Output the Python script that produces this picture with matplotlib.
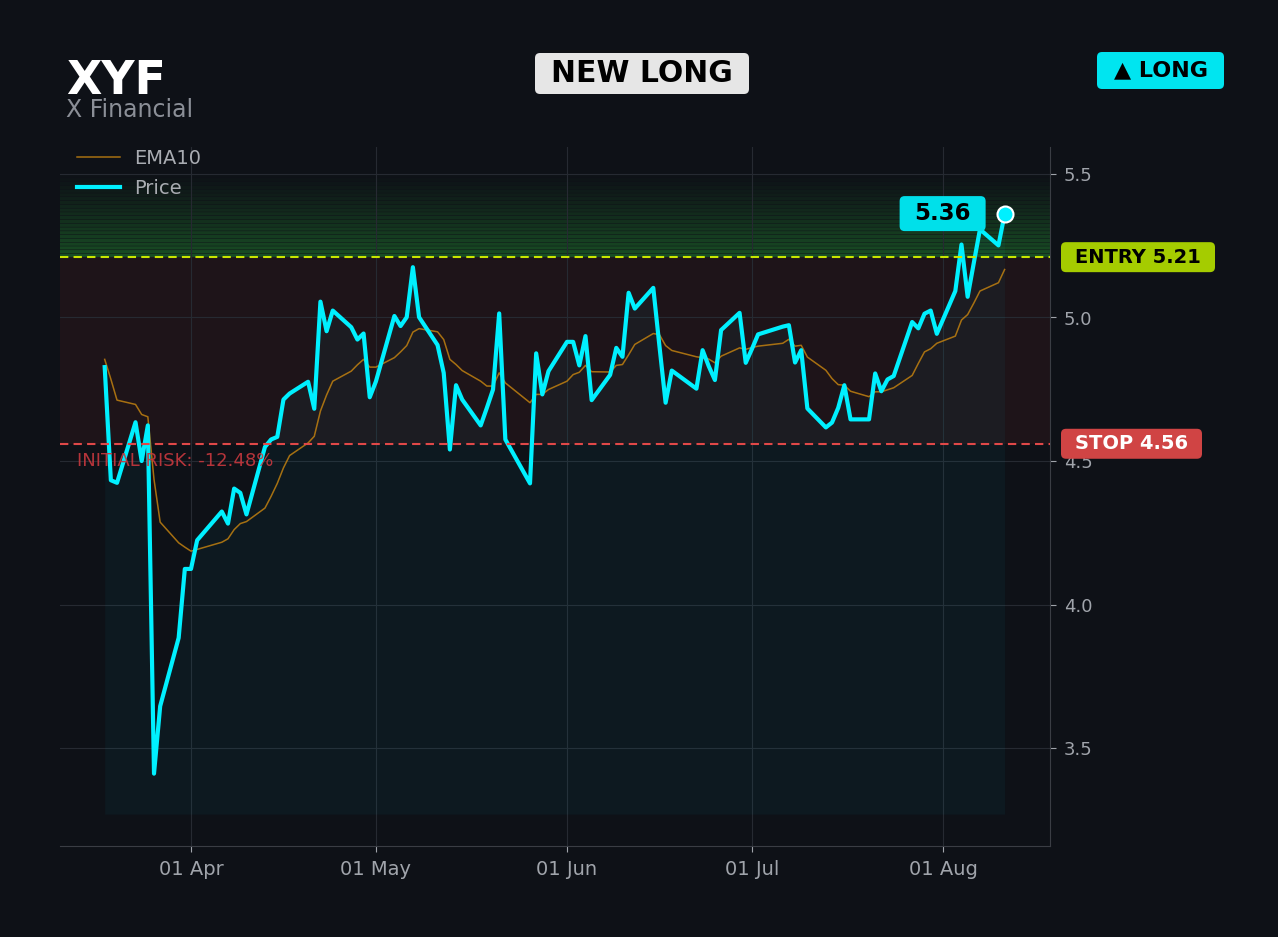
import matplotlib
matplotlib.use('Agg')
import matplotlib.pyplot as plt
import matplotlib.dates as mdates
import matplotlib.ticker as mticker
from matplotlib.patches import FancyBboxPatch
from matplotlib.transforms import IdentityTransform, blended_transform_factory
import numpy as np
import pandas as pd

# ---------------- data ----------------
ticker = "XYF"
company = "X Financial"
signal = "NEW LONG"
direction = "\u25B2 LONG"
entry = 5.21
stop = 4.56
last_price = 5.36
risk_pct = -12.48

price_dates = [
    "2026-03-18", "2026-03-19", "2026-03-20", "2026-03-23", "2026-03-24", "2026-03-25",
    "2026-03-26", "2026-03-27", "2026-03-30", "2026-03-31", "2026-04-01", "2026-04-02",
    "2026-04-06", "2026-04-07", "2026-04-08", "2026-04-09", "2026-04-10", "2026-04-13",
    "2026-04-14", "2026-04-15", "2026-04-16", "2026-04-17", "2026-04-20", "2026-04-21",
    "2026-04-22", "2026-04-23", "2026-04-24", "2026-04-27", "2026-04-28", "2026-04-29",
    "2026-04-30", "2026-05-01", "2026-05-04", "2026-05-05", "2026-05-06", "2026-05-07",
    "2026-05-08", "2026-05-11", "2026-05-12", "2026-05-13", "2026-05-14", "2026-05-15",
    "2026-05-18", "2026-05-19", "2026-05-20", "2026-05-21", "2026-05-22", "2026-05-26",
    "2026-05-27", "2026-05-28", "2026-05-29", "2026-06-01", "2026-06-02", "2026-06-03",
    "2026-06-04", "2026-06-05", "2026-06-08", "2026-06-09", "2026-06-10", "2026-06-11",
    "2026-06-12", "2026-06-15", "2026-06-16", "2026-06-17", "2026-06-18", "2026-06-22",
    "2026-06-23", "2026-06-24", "2026-06-25", "2026-06-26", "2026-06-29", "2026-06-30",
    "2026-07-01", "2026-07-02", "2026-07-06", "2026-07-07", "2026-07-08", "2026-07-09",
    "2026-07-10", "2026-07-13", "2026-07-14", "2026-07-15", "2026-07-16", "2026-07-17",
    "2026-07-20", "2026-07-21", "2026-07-22", "2026-07-23", "2026-07-24", "2026-07-27",
    "2026-07-28", "2026-07-29", "2026-07-30", "2026-07-31", "2026-08-03", "2026-08-04",
    "2026-08-05", "2026-08-06", "2026-08-07", "2026-08-10", "2026-08-11",
]

price_values = [
    4.827, 4.433, 4.424, 4.635, 4.500, 4.624,
    3.411, 3.646, 3.884, 4.124, 4.124, 4.224,
    4.324, 4.282, 4.404, 4.389, 4.314, 4.549,
    4.575, 4.584, 4.714, 4.735, 4.776, 4.682,
    5.055, 4.952, 5.024, 4.966, 4.923, 4.944,
    4.722, 4.777, 5.005, 4.970, 5.001, 5.175,
    5.001, 4.904, 4.807, 4.540, 4.764, 4.714,
    4.624, 4.685, 4.749, 5.014, 4.575, 4.422,
    4.875, 4.732, 4.813, 4.915, 4.915, 4.833,
    4.935, 4.712, 4.800, 4.894, 4.863, 5.086,
    5.031, 5.103, 4.900, 4.703, 4.815, 4.752,
    4.886, 4.830, 4.782, 4.956, 5.016, 4.842,
    4.890, 4.941, 4.968, 4.973, 4.843, 4.886,
    4.683, 4.617, 4.634, 4.685, 4.764, 4.645,
    4.645, 4.805, 4.743, 4.784, 4.796, 4.984,
    4.962, 5.013, 5.024, 4.943, 5.092, 5.254,
    5.072, 5.190, 5.307, 5.251, 5.360,
]

ema_values = [
    4.854, 4.785, 4.712, 4.697, 4.662, 4.654,
    4.436, 4.287, 4.215, 4.200, 4.186, 4.192,
    4.217, 4.229, 4.261, 4.282, 4.289, 4.336,
    4.377, 4.422, 4.476, 4.519, 4.563, 4.586,
    4.674, 4.730, 4.778, 4.813, 4.835, 4.854,
    4.827, 4.827, 4.860, 4.880, 4.902, 4.949,
    4.961, 4.950, 4.923, 4.854, 4.836, 4.815,
    4.778, 4.761, 4.761, 4.807, 4.772, 4.703,
    4.732, 4.732, 4.749, 4.778, 4.801, 4.809,
    4.833, 4.811, 4.810, 4.833, 4.836, 4.870,
    4.906, 4.944, 4.940, 4.902, 4.885, 4.863,
    4.860, 4.855, 4.842, 4.865, 4.894, 4.889,
    4.895, 4.900, 4.910, 4.924, 4.900, 4.903,
    4.862, 4.816, 4.787, 4.766, 4.764, 4.743,
    4.724, 4.741, 4.741, 4.748, 4.755, 4.798,
    4.840, 4.880, 4.891, 4.910, 4.935, 4.991,
    5.010, 5.050, 5.092, 5.121, 5.167,
]

yticks = [3.5, 4.0, 4.5, 5.0, 5.5]

# ---------------- style ----------------
W, H = 1278, 937
BG = '#0e1117'
CYAN = '#00f0ff'
GRID = '#262a32'
TICK = '#a0a4ab'

dates = pd.to_datetime(price_dates)
price = np.array(price_values)
ema = np.array(ema_values)

fig = plt.figure(figsize=(W / 100 + 0.001, H / 100 + 0.001), dpi=100, facecolor=BG)
ax = fig.add_axes([60 / W, 1 - 846 / H, 990 / W, 699 / H])
ax.set_facecolor(BG)

x_lo = pd.Timestamp("2026-03-10 18:00")
x_hi = pd.Timestamp("2026-08-18 09:00")
ax.set_xlim(x_lo, x_hi)
ax.set_ylim(3.159, 5.594)

# zones
ax.axhspan(stop, entry, color='#e03c3c', alpha=0.08, lw=0, zorder=0)
n = 22
lv = np.linspace(entry, 5.50, n + 1)
gap = 0.0016
for i in range(n):
    sp = ax.axhspan(lv[i], lv[i + 1] - gap, color='#2ecc40', alpha=0.32 * (1 - i / n) ** 1.2,
                    lw=0, zorder=0)
    sp.set_snap(False)

ax.grid(True, color=GRID, lw=0.8, zorder=0.5)
ax.set_axisbelow(True)

# fill under price
ax.fill_between(dates, price, 3.27, color='#00e5ff', alpha=0.04, lw=0, zorder=1)

# lines
ax.plot(dates, ema, color='#c08010', lw=1.1, alpha=0.85, label='EMA10', zorder=3)
ax.plot(dates, price, color=CYAN, lw=3.0, label='Price', zorder=4)
ax.plot(dates[-1:], price[-1:], 'o', ms=11.5, mfc=CYAN, mec='white', mew=1.5, zorder=6)

ax.axhline(entry, color='#c8e600', ls=(0, (4, 2.5)), lw=1.5, zorder=5)
ax.axhline(stop, color='#e04848', ls=(0, (4, 2.5)), lw=1.5, zorder=5)

ax.text(0.017, stop - 0.03, f"INITIAL RISK: {risk_pct:.2f}%",
        transform=blended_transform_factory(ax.transAxes, ax.transData),
        color='#c8383e', alpha=0.9, fontsize=13, ha='left', va='top', zorder=6)

# axes styling
for s in ['top', 'left']:
    ax.spines[s].set_visible(False)
for s in ['right', 'bottom']:
    ax.spines[s].set_color('#3a3d44')
ax.yaxis.tick_right()
ax.set_yticks(yticks)
ax.yaxis.set_major_formatter(mticker.FormatStrFormatter('%.1f'))
ax.xaxis.set_major_locator(mdates.MonthLocator(bymonthday=1))
ax.xaxis.set_major_formatter(mdates.DateFormatter('%d %b'))
ax.tick_params(axis='both', colors=TICK, length=4, width=0.8)
ax.tick_params(axis='y', labelsize=13, pad=6)
ax.tick_params(axis='x', labelsize=14, pad=6)

leg = ax.legend(loc='upper left', frameon=False, fontsize=14, labelcolor='#a9acb2',
                bbox_to_anchor=(0.015, 1.0), borderaxespad=0.0, borderpad=0.1,
                labelspacing=0.55, handlelength=2.2, handletextpad=0.75)

# ---------------- tags ----------------
def tag(x0, x1, yc, h, text, fc, tc, fs, r=5):
    p = FancyBboxPatch((x0, yc - h / 2), x1 - x0, h,
                       boxstyle=f"round,pad=0,rounding_size={r}",
                       transform=IdentityTransform(), fc=fc, ec='none', zorder=10)
    fig.add_artist(p)
    fig.text((x0 + x1) / 2 / W, yc / H, text, ha='center', va='center',
             color=tc, fontsize=fs, fontweight='bold', zorder=11)

def ypix(v):
    return ax.transData.transform((mdates.date2num(dates[-1]), v))[1]

tag(1061, 1215, ypix(entry), 30, f"ENTRY {entry:.2f}", '#a5cc00', 'black', 14)
tag(1061, 1202, ypix(stop), 30, f"STOP {stop:.2f}", '#d04444', 'white', 14)
lx = ax.transData.transform((mdates.date2num(dates[-1]), last_price))[0]
tag(lx - 105, lx - 19, ypix(last_price) + 0.5, 35, f"{last_price:.2f}", '#00e0ea', 'black', 16.5)

tag(535, 749, H - 73.5, 41, signal, '#e6e6e6', 'black', 21.5)
tag(1097, 1224, H - 70.5, 37, direction, '#00e5f0', 'black', 16)

fig.text(66 / W, 1 - 94 / H, ticker, color='white', fontsize=33, fontweight='bold',
         ha='left', va='baseline')
fig.text(66 / W, 1 - 116.5 / H, company, color='#8b8f97', fontsize=17,
         ha='left', va='baseline')

fig.savefig('out.png', dpi=100, facecolor=BG)
